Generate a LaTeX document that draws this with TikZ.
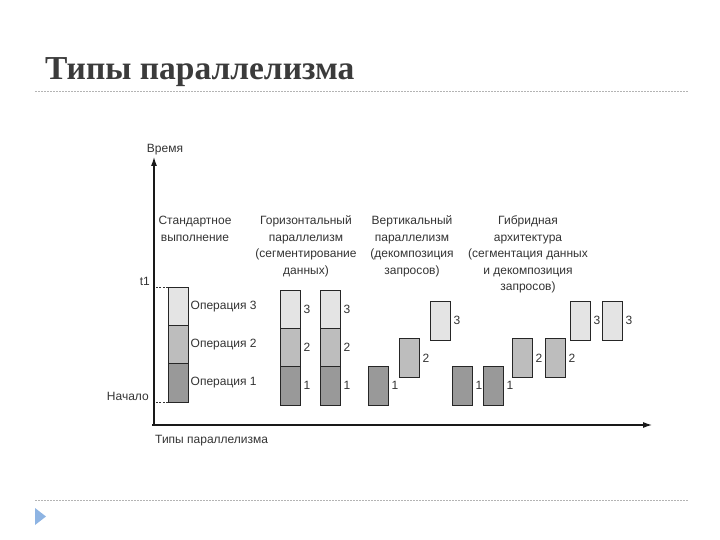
\documentclass[tikz,border=0pt]{standalone}
\usepackage{fontspec}
\setmainfont{Liberation Sans}
\newfontfamily\titlefont{Liberation Serif}
\usetikzlibrary{positioning,arrows.meta}
\definecolor{opthree}{HTML}{E4E4E4}
\definecolor{optwo}{HTML}{BDBDBD}
\definecolor{opone}{HTML}{999999}
\definecolor{inkgray}{HTML}{333333}
\definecolor{titlegray}{HTML}{3B3B3B}
\definecolor{rulegray}{HTML}{B4B4B4}
\definecolor{bulletblue}{HTML}{8EB4E3}

\begin{document}
\begin{tikzpicture}[x=1pt,y=-1pt,node distance=3pt,
    txt/.style={text=inkgray,font=\fontsize{12}{16.5}\selectfont,inner sep=0pt},
    head/.style={txt,align=center,anchor=north},
    seg/.style={draw=black!85,line width=0.8pt,minimum width=20.5pt,minimum height=38.3pt,inner sep=0pt,outer sep=0pt},
    segs/.style={seg,anchor=south west},
    axis/.style={draw=black!90,line width=1.1pt,-{Latex[length=9pt,width=6pt]}},
    guide/.style={draw=black!80,dashed,dash pattern=on 2pt off 1.5pt,line width=0.6pt},
    rule/.style={draw=rulegray,dash pattern=on 2pt off 1pt,line width=0.8pt}]
  \useasboundingbox (0,0) rectangle (720,540);

  % title and rules
  \node[anchor=base west,inner sep=0pt,text=titlegray,font=\titlefont\bfseries\fontsize{33.5}{38}\selectfont] (title) at (45,80) {Типы параллелизма};
  \coordinate (rt0) at (35,91);
  \coordinate (rt1) at (688,91);
  \coordinate (rb0) at (35,500);
  \coordinate (rb1) at (688,500);
  \draw[rule] (rt0) -- (rt1);
  \draw[rule] (rb0) -- (rb1);
  \fill[bulletblue] (35,508) -- (46,516.5) -- (35,525) -- cycle;

  % axes
  \coordinate (o) at (154,425);
  \coordinate (ytop) at (154,157);
  \coordinate (xend) at (652,425);
  \draw[axis] (o) -- (ytop);
  \draw[axis] (152,425) -- (xend);
  \node[txt] (time) at (165,150) {Время};
  \node[txt,anchor=west] (kinds) at (155,441) {Типы параллелизма};

  % column headings
  \node[head] (hstd) at (195,216) {Стандартное\\выполнение};
  \node[head] (hhor) at (306,215.5) {Горизонтальный\\параллелизм\\(сегментирование\\данных)};
  \node[head] (hver) at (412,215.5) {Вертикальный\\параллелизм\\(декомпозиция\\запросов)};
  \node[head] (hhyb) at (528,215.5) {Гибридная\\архитектура\\(сегментация данных\\и декомпозиция\\запросов)};

  % standard execution
  \node[segs,fill=opone] (s1) at (168,402) {};
  \node[seg,fill=optwo,above=0pt of s1] (s2) {};
  \node[seg,fill=opthree,above=0pt of s2] (s3) {};
  \node[txt,right=2pt of s1] (s1n) {Операция 1};
  \node[txt,right=2pt of s2] (s2n) {Операция 2};
  \node[txt,right=2pt of s3] (s3n) {Операция 3};
  \node[txt,anchor=east] (t1) at (150,281) {t1};
  \node[txt,anchor=east] (start) at (149,396) {Начало};
  \draw[guide] (s3.north west) -- (s3.north west -| o);
  \draw[guide] (s1.south west) -- (s1.south west -| o);

  % horizontal parallelism
  \node[segs,fill=opone] (ha1) at (280,405) {};
  \node[seg,fill=optwo,above=0pt of ha1] (ha2) {};
  \node[seg,fill=opthree,above=0pt of ha2] (ha3) {};
  \node[segs,fill=opone] (hb1) at (320,405) {};
  \node[seg,fill=optwo,above=0pt of hb1] (hb2) {};
  \node[seg,fill=opthree,above=0pt of hb2] (hb3) {};
  \node[txt,right=of ha1] (ha1n) {1};
  \node[txt,right=of ha2] (ha2n) {2};
  \node[txt,right=of ha3] (ha3n) {3};
  \node[txt,right=of hb1] (hb1n) {1};
  \node[txt,right=of hb2] (hb2n) {2};
  \node[txt,right=of hb3] (hb3n) {3};

  % vertical parallelism
  \node[segs,fill=opone] (v1) at (368,405) {};
  \node[segs,fill=optwo] (v2) at (399,377) {};
  \node[segs,fill=opthree] (v3) at (430,340) {};
  \node[txt,right=of v1] (v1n) {1};
  \node[txt,right=of v2] (v2n) {2};
  \node[txt,right=of v3] (v3n) {3};

  % hybrid
  \node[segs,fill=opone] (ga1) at (452,405) {};
  \node[segs,fill=opone] (gb1) at (483,405) {};
  \node[segs,fill=optwo] (ga2) at (512,377) {};
  \node[segs,fill=optwo] (gb2) at (545,377) {};
  \node[segs,fill=opthree] (ga3) at (570,340) {};
  \node[segs,fill=opthree] (gb3) at (602,340) {};
  \node[txt,right=of ga1] (ga1n) {1};
  \node[txt,right=of gb1] (gb1n) {1};
  \node[txt,right=of ga2] (ga2n) {2};
  \node[txt,right=of gb2] (gb2n) {2};
  \node[txt,right=of ga3] (ga3n) {3};
  \node[txt,right=of gb3] (gb3n) {3};
\end{tikzpicture}
\end{document}
